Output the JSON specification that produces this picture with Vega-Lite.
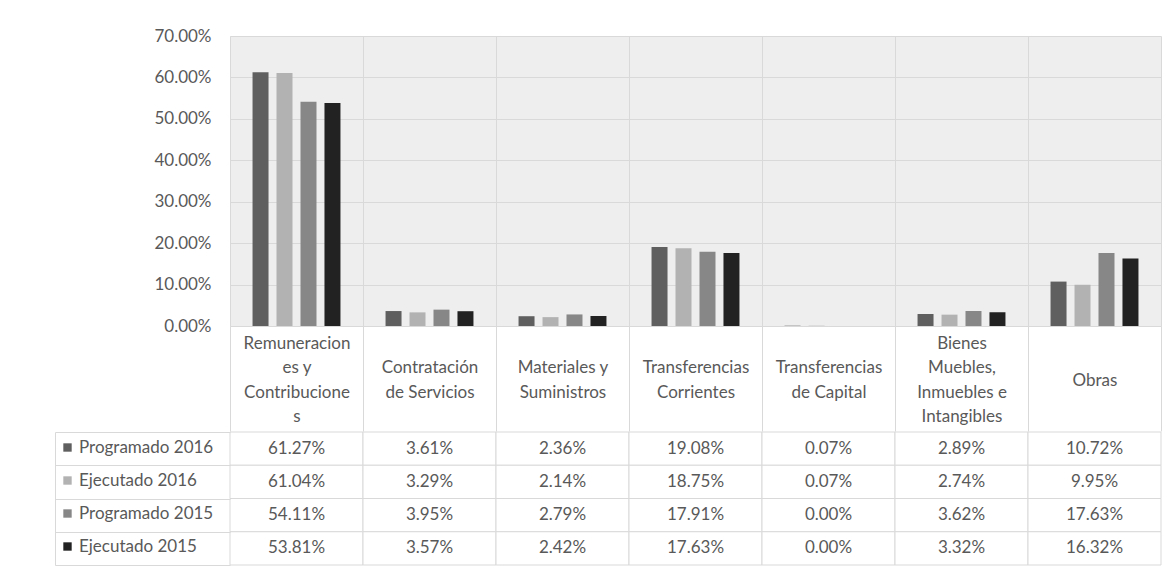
{
  "$schema": "https://vega.github.io/schema/vega-lite/v6.json",
  "background": "white",
  "padding": {"left": 54, "top": 27, "right": 5, "bottom": 5},
  "spacing": -2,
  "config": {
    "font": "Lato",
    "view": {"stroke": null},
    "axis": {"labelFont": "Lato"},
    "legend": {"labelFont": "Lato"}
  },
  "data": {
    "values": [
      {"category": "Remuneraciones y Contribuciones", "series": "Programado 2016", "value": 0.6127},
      {"category": "Contratación de Servicios", "series": "Programado 2016", "value": 0.0361},
      {"category": "Materiales y Suministros", "series": "Programado 2016", "value": 0.0236},
      {"category": "Transferencias Corrientes", "series": "Programado 2016", "value": 0.1908},
      {"category": "Transferencias de Capital", "series": "Programado 2016", "value": 0.0007},
      {"category": "Bienes Muebles, Inmuebles e Intangibles", "series": "Programado 2016", "value": 0.0289},
      {"category": "Obras", "series": "Programado 2016", "value": 0.1072},
      {"category": "Remuneraciones y Contribuciones", "series": "Ejecutado 2016", "value": 0.6104},
      {"category": "Contratación de Servicios", "series": "Ejecutado 2016", "value": 0.0329},
      {"category": "Materiales y Suministros", "series": "Ejecutado 2016", "value": 0.0214},
      {"category": "Transferencias Corrientes", "series": "Ejecutado 2016", "value": 0.1875},
      {"category": "Transferencias de Capital", "series": "Ejecutado 2016", "value": 0.0007},
      {"category": "Bienes Muebles, Inmuebles e Intangibles", "series": "Ejecutado 2016", "value": 0.0274},
      {"category": "Obras", "series": "Ejecutado 2016", "value": 0.0995},
      {"category": "Remuneraciones y Contribuciones", "series": "Programado 2015", "value": 0.5411},
      {"category": "Contratación de Servicios", "series": "Programado 2015", "value": 0.0395},
      {"category": "Materiales y Suministros", "series": "Programado 2015", "value": 0.0279},
      {"category": "Transferencias Corrientes", "series": "Programado 2015", "value": 0.1791},
      {"category": "Transferencias de Capital", "series": "Programado 2015", "value": 0.0},
      {"category": "Bienes Muebles, Inmuebles e Intangibles", "series": "Programado 2015", "value": 0.0362},
      {"category": "Obras", "series": "Programado 2015", "value": 0.1763},
      {"category": "Remuneraciones y Contribuciones", "series": "Ejecutado 2015", "value": 0.5381},
      {"category": "Contratación de Servicios", "series": "Ejecutado 2015", "value": 0.0357},
      {"category": "Materiales y Suministros", "series": "Ejecutado 2015", "value": 0.0242},
      {"category": "Transferencias Corrientes", "series": "Ejecutado 2015", "value": 0.1763},
      {"category": "Transferencias de Capital", "series": "Ejecutado 2015", "value": 0.0},
      {"category": "Bienes Muebles, Inmuebles e Intangibles", "series": "Ejecutado 2015", "value": 0.0332},
      {"category": "Obras", "series": "Ejecutado 2015", "value": 0.1632}
    ]
  },
  "resolve": {"legend": {"color": "independent"}},
  "vconcat": [
    {
      "width": 931,
      "height": 290,
      "view": {"fill": "#eeeeee", "stroke": null},
      "mark": {"type": "bar"},
      "encoding": {
        "x": {
          "field": "category",
          "type": "nominal",
          "sort": ["Remuneraciones y Contribuciones", "Contratación de Servicios", "Materiales y Suministros", "Transferencias Corrientes", "Transferencias de Capital", "Bienes Muebles, Inmuebles e Intangibles", "Obras"],
          "scale": {"paddingInner": 0, "paddingOuter": 0},
          "axis": {
            "title": null,
            "orient": "bottom",
            "domain": true,
            "domainColor": "#d9d9d9",
            "ticks": true,
            "tickBand": "extent",
            "tickSize": 105,
            "tickColor": "#d9d9d9",
            "grid": true,
            "gridColor": "#d9d9d9",
            "labelAngle": 0,
            "labelAlign": "center",
            "labelBaseline": "middle",
            "labelPadding": {
              "condition": [
                {"test": "datum.value == 'Remuneraciones y Contribuciones' || datum.value == 'Bienes Muebles, Inmuebles e Intangibles'", "value": -88},
                {"test": "datum.value == 'Obras'", "value": -51}
              ],
              "value": -63.5
            },
            "labelLineHeight": 24.5,
            "labelFontSize": 17,
            "labelColor": "#595959",
            "labelLimit": 0,
            "labelOverlap": false,
            "labelBound": false,
            "labelExpr": "datum.value == 'Remuneraciones y Contribuciones' ? ['Remuneracion','es y','Contribucione','s'] : datum.value == 'Contratación de Servicios' ? ['Contratación','de Servicios'] : datum.value == 'Materiales y Suministros' ? ['Materiales y','Suministros'] : datum.value == 'Transferencias Corrientes' ? ['Transferencias','Corrientes'] : datum.value == 'Transferencias de Capital' ? ['Transferencias','de Capital'] : datum.value == 'Bienes Muebles, Inmuebles e Intangibles' ? ['Bienes','Muebles,','Inmuebles e','Intangibles'] : datum.label"
          }
        },
        "xOffset": {
          "field": "series",
          "type": "nominal",
          "sort": ["Programado 2016", "Ejecutado 2016", "Programado 2015", "Ejecutado 2015"],
          "scale": {"paddingInner": 0.333, "paddingOuter": 0.94}
        },
        "y": {
          "field": "value",
          "type": "quantitative",
          "scale": {"domain": [0, 0.7], "nice": false},
          "axis": {
            "title": null,
            "values": [0, 0.1, 0.2, 0.3, 0.4, 0.5, 0.6, 0.7],
            "format": ".2%",
            "domain": false,
            "ticks": false,
            "grid": true,
            "gridColor": "#d9d9d9",
            "labelColor": "#595959",
            "labelFontSize": 17,
            "labelPadding": 19
          }
        },
        "color": {
          "field": "series",
          "type": "nominal",
          "scale": {
            "domain": ["Programado 2016", "Ejecutado 2016", "Programado 2015", "Ejecutado 2015"],
            "range": ["#5f5f5f", "#b2b2b2", "#878787", "#222222"]
          },
          "legend": null
        }
      }
    },
    {
      "width": 931,
      "height": 133,
      "encoding": {
        "x": {
          "field": "category",
          "type": "nominal",
          "sort": ["Remuneraciones y Contribuciones", "Contratación de Servicios", "Materiales y Suministros", "Transferencias Corrientes", "Transferencias de Capital", "Bienes Muebles, Inmuebles e Intangibles", "Obras"],
          "scale": {"paddingInner": 0, "paddingOuter": 0},
          "axis": null
        },
        "y": {
          "field": "series",
          "type": "nominal",
          "sort": ["Programado 2016", "Ejecutado 2016", "Programado 2015", "Ejecutado 2015"],
          "scale": {"paddingInner": 0, "paddingOuter": 0},
          "axis": {
            "title": null,
            "orient": "left",
            "labels": false,
            "offset": 175,
            "tickSize": -175,
            "tickBand": "extent",
            "tickColor": "#d9d9d9",
            "domainColor": "#d9d9d9",
            "grid": false
          }
        }
      },
      "layer": [
        {"mark": {"type": "rect", "fill": "white", "stroke": "#d9d9d9", "strokeWidth": 1}},
        {
          "mark": {"type": "text", "fontSize": 17, "color": "#595959"},
          "encoding": {"text": {"field": "value", "type": "quantitative", "format": ".2%"}}
        },
        {
          "mark": {"type": "square", "opacity": 0},
          "encoding": {
            "color": {
              "field": "series",
              "type": "nominal",
              "scale": {
                "domain": ["Programado 2016", "Ejecutado 2016", "Programado 2015", "Ejecutado 2015"],
                "range": ["#5f5f5f", "#b2b2b2", "#878787", "#222222"]
              },
              "legend": {
                "orient": "none",
                "legendX": -171,
                "legendY": 7,
                "title": null,
                "direction": "vertical",
                "symbolType": "square",
                "symbolSize": 70,
                "symbolStrokeWidth": 0,
                "labelFontSize": 17,
                "labelColor": "#595959",
                "labelOffset": 3,
                "rowPadding": 15,
                "padding": 0
              }
            }
          }
        }
      ]
    }
  ]
}
